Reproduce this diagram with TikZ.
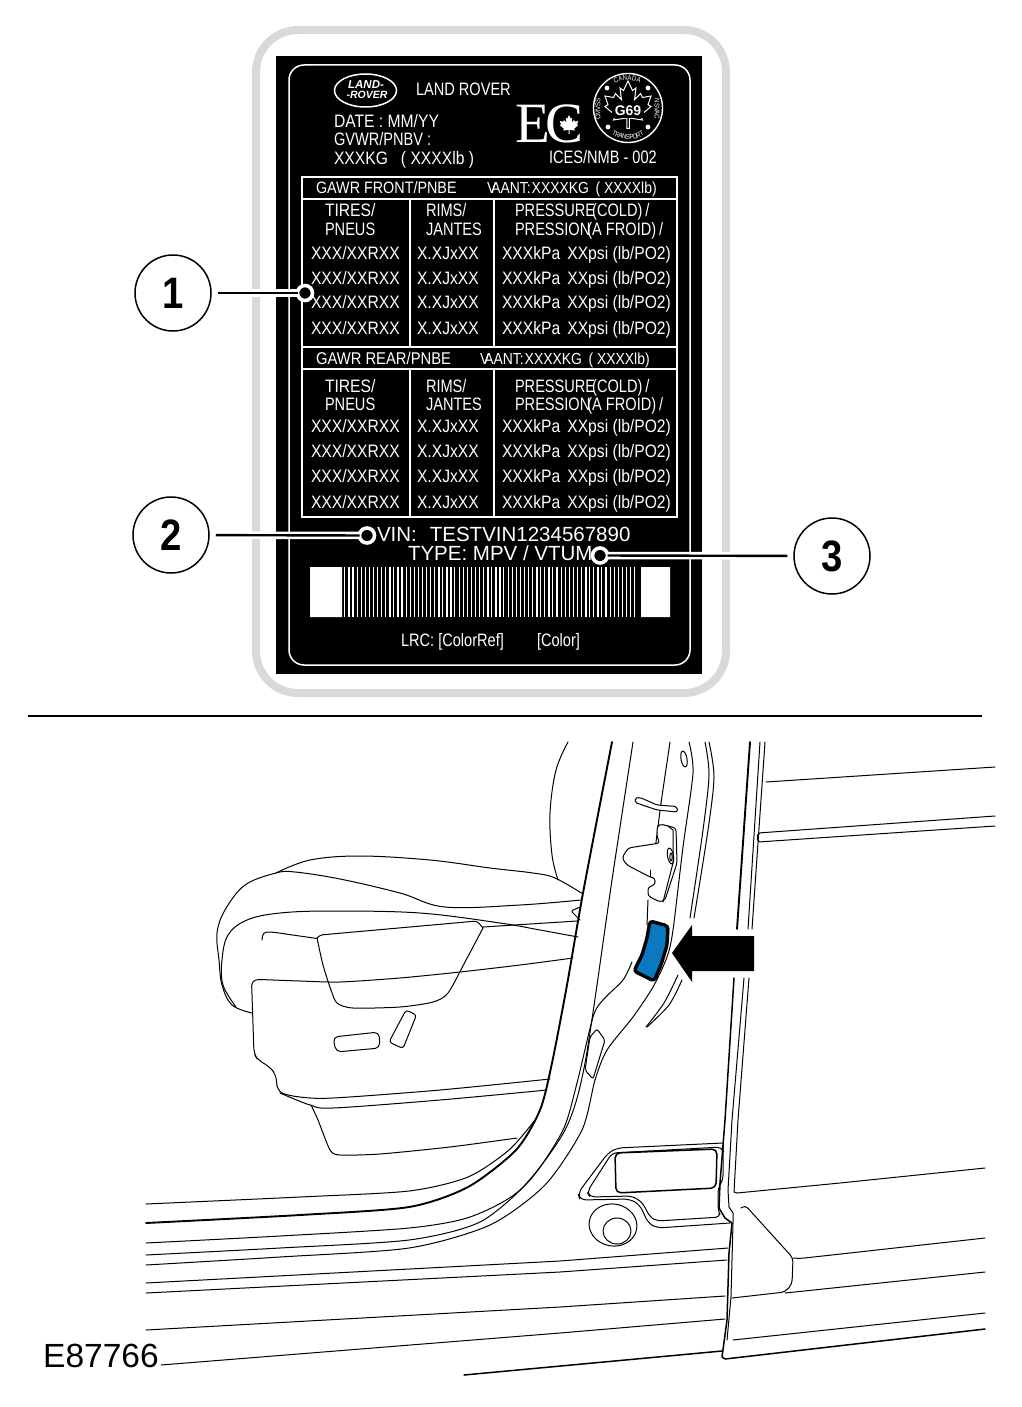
\documentclass[tikz,border=0pt]{standalone}
\usepackage{fontspec}
\usetikzlibrary{shapes.geometric,calc}
\setmainfont{Liberation Sans}
\newfontfamily\nar[FakeStretch=.87]{Liberation Sans}
\newfontfamily\nrw[FakeStretch=.81]{Liberation Sans}
\newfontfamily\ecfont{Liberation Serif}
\definecolor{framegray}{HTML}{D9D9D9}
\definecolor{tagblue}{HTML}{0B78C2}
\newcommand{\fs}[1]{\fontsize{#1}{#1}\selectfont}
\newcommand{\leafshape}{(0,1) -- (.18,.62) -- (.32,.72) -- (.26,.25) -- (.5,.5) -- (.58,.34) -- (.92,.4) -- (.8,.05) -- (.92,-.02) -- (.5,-.38) -- (.58,-.56) -- (.05,-.48) -- (.05,-.9) -- (-.05,-.9) -- (-.05,-.48) -- (-.58,-.56) -- (-.5,-.38) -- (-.92,-.02) -- (-.8,.05) -- (-.92,.4) -- (-.58,.34) -- (-.5,.5) -- (-.26,.25) -- (-.32,.72) -- (-.18,.62) -- cycle}
\tikzset{
  x=1pt,y=-1pt,
  lbl/.style={text=white,inner sep=0pt,outer sep=0pt,anchor=base west,font=\nar\fs{18}},
  lbn/.style={lbl,font=\nrw\fs{18}},
  tbl/.style={lbl,font=\nar\fs{17}},
  big/.style={lbl,font=\fs{20.5}},
  whiteline/.style={draw=white,line width=1.5pt},
  callout/.style={circle,draw=black,fill=white,line width=1.5pt,minimum size=76pt,inner sep=0pt,font=\nar\bfseries\fs{44}},
  ring/.style={circle,draw=white,fill=black,line width=3.6pt,minimum size=15pt,inner sep=0pt,outer sep=0pt},
  halo/.style={draw=white,line width=7.5pt,shorten <=6pt},
  leader/.style={draw=black,line width=2.4pt,shorten <=6pt},
  sk/.style={draw=black,line width=1pt,line join=round,line cap=round},
  skb/.style={sk,line width=1.9pt},
  tiny/.style={text=white,inner sep=0pt,font=\nar\fs{7}}
}
\begin{document}
\begin{tikzpicture}
\useasboundingbox (0,0) rectangle (1021,1407);
% ---------- label
\draw[framegray,line width=8pt,rounded corners=42pt] (256,30) rectangle (726,693);
\fill[black] (276,56) rectangle (702,674);
\draw[whiteline,rounded corners=15pt] (289,65) rectangle (690,665);
\draw[whiteline] (302,177) rectangle (677,517);
\draw[whiteline] (302,199) -- (677,199) (302,347) -- (677,347) (302,369) -- (677,369);
\draw[whiteline] (410,199) -- (410,347) (494,199) -- (494,347) (410,369) -- (410,517) (494,369) -- (494,517);
% logo
\node[ellipse,draw=white,line width=1.5pt,minimum width=62pt,minimum height=33pt,inner sep=0pt] (logo) at (365.5,90.5) {};
\node[text=white,inner sep=0pt,font=\bfseries\itshape\fs{11.5}] (logoa) at (366,84.5) {LAND-};
\node[text=white,inner sep=0pt,font=\bfseries\itshape\fs{10.5}] (logob) at (367,95) {-ROVER};
\node[lbn] (brand) at (416,95.5) {LAND ROVER};
\node[lbl] (date) at (334,128) {DATE : MM/YY};
\node[lbn] (gvwr) at (334,145.5) {GVWR/PNBV :};
\node[lbl] (kg) at (334,165) {XXXKG\hspace{13pt}( XXXXlb )};
\node[lbn] (ices) at (549,164) {ICES/NMB - 002};
\node[lbl,font=\ecfont\fs{57}] (ece) at (515,143) {E};
\node[lbl,font=\ecfont\fs{57}] (ecc) at (545,143) {C};
\fill[black] (570,125) circle (13);
\begin{scope}[shift={(569,125)},xscale=10,yscale=-10]
\fill[white] \leafshape;
\end{scope}
% badge
\node[circle,draw=white,line width=1.4pt,minimum size=69pt,inner sep=0pt] (badge) at (628,108) {};
\begin{scope}[shift={(628,106)},xscale=25,yscale=-25]
\draw[white,line width=1pt] \leafshape;
\end{scope}
\fill[black] (612,102) rectangle (644,118);
\node[text=white,inner sep=0pt,font=\bfseries\fs{14}] (gsix) at (628,110.5) {G69};
\fill[white] (607,88) circle (2.4) (648,88) circle (2.4) (608,127) circle (2.4) (648,127) circle (2.4);
\foreach \c/\a [count=\i] in {C/-24,A/-15,N/-6,A/3,D/12,A/21}
  \node[tiny,rotate=-\a] (ca\i) at ($(628,108)+(\a-90:30)$) {\c};
\foreach \c/\a [count=\i] in {T/208,R/201,A/194,N/187,S/180,P/173,O/166,R/159,T/152}
  \node[tiny,rotate=180-\a] (tr\i) at ($(628,108)+(\a-90:29)$) {\c};
\node[tiny,rotate=90] (cm) at (598,109) {CMVSS};
\node[tiny,rotate=-90] (ns) at (657,109) {NSVAC};
% table
\node[tbl,font=\nar\fs{16.5}] (gf) at (316,193.5) {GAWR FRONT/PNBE};
\node[tbl,font=\nar\fs{16}] (vf) at (487,193.5) {V\kern-5pt AANT:\kern1pt XXXXKG \,( XXXXlb)};
\node[tbl] (gr) at (316,364) {GAWR REAR/PNBE};
\node[tbl,font=\nar\fs{16}] (vr) at (480,364) {V\kern-5pt AANT:\kern1pt XXXXKG \,( XXXXlb)};
\foreach \tag/\ya/\yb in {f/216.5/235,r/392/410}{
  \node[lbl] (ti\tag) at (325,\ya) {TIRES/};
  \node[lbn] (pn\tag) at (325,\yb) {PNEUS};
  \node[lbn] (ri\tag) at (426,\ya) {RIMS/};
  \node[lbn] (ja\tag) at (426,\yb) {JANTES};
  \node[lbn] (pr\tag) at (515,\ya) {PRESSURE\kern-3pt(COLD)\kern-1pt\ /};
  \node[lbn] (pi\tag) at (515,\yb) {PRESSION\kern-3pt(A FROID)\kern-1pt\ /};
}
\foreach \y [count=\i] in {259,284,308,334,432,457,482,508}{
  \node[lbl] (ta\i) at (311,\y) {XXX/XXRXX};
  \node[lbl] (ra\i) at (417,\y) {X.XJxXX};
  \node[lbl] (pa\i) at (502,\y) {XXXkPa\hspace{7pt}XXpsi (lb/PO2)};
}
\node[big] (vin) at (377,541) {VIN:\hspace{13pt}TESTVIN1234567890};
\node[big] (type) at (408,560) {TYPE: MPV / VTUM};
% barcode
\fill[white] (310,567) rectangle (342,617) (641,567) rectangle (670,617);
\foreach \i in {0,...,71}{
  \pgfmathsetmacro{\bx}{344.3+\i*4.08}
  \pgfmathsetmacro{\bw}{1+0.25*mod(\i*7,3)}
  \fill[white] (\bx,567) rectangle (\bx+\bw,617);
}
\node[lbn] (lrc) at (401,646) {LRC: [ColorRef]};
\node[lbn] (col) at (537,646) {[Color]};
% callouts
\node[callout] (c1) at (173,293) {1};
\node[callout] (c2) at (171,535) {2};
\node[callout] (c3) at (832,556) {3};
\node[ring] (r1) at (305,293) {};
\node[ring] (r2) at (367,535.5) {};
\node[ring] (r3) at (600,555.5) {};
\path[halo] (c1) -- (r1);
\path[halo] (c2) -- (r2);
\path[halo] (c3) -- (r3);
\path[leader] (c1) -- (r1);
\path[leader] (c2) -- (r2);
\path[leader] (c3) -- (r3);
% divider
\draw[black,line width=1.6pt] (28,716) -- (982,716);
% ---------- seat
\draw[sk] plot[smooth,tension=.6] coordinates {(568,742) (556,770) (550,813) (552,855) (558,880)};
\draw[sk] plot[smooth,tension=.6] coordinates {(276,873) (310,860) (360,856) (430,860) (490,868) (533,873) (555,878) (583,894)};
\draw[sk] plot[smooth,tension=.6] coordinates {(581,900) (520,905) (445,907) (400,893) (340,879) (295,872) (276,873) (245,885) (225,910) (217,933) (219,960) (222,985) (232,1005) (252,1013)};
\draw[sk] plot[smooth,tension=.6] coordinates {(578,937) (540,930) (500,923) (420,913) (333,911) (280,913) (247,920) (228,935) (222,960) (223,985) (236,1007)};
\draw[sk,rounded corners=4pt] (262,940) -- (263,932) -- (272,932) -- (317,938.5);
\draw[sk] plot[smooth,tension=.45] coordinates {(317,938) (323,965) (331,990) (337,1003) (353,1008) (400,1007) (433,1002) (448,993) (465,962) (483,928)};
\draw[sk,rounded corners=3pt] (317,938) -- (320,935) -- (477,921) -- (483,928);
\draw[sk] (483,927) -- (577,921);
\draw[sk] plot[smooth,tension=.4] coordinates {(573,958) (520,965) (460,972) (400,978) (340,982) (300,981) (260,979.5)};
\draw[sk,rounded corners=6pt] (262,979.5) -- (251.5,980) -- (254,1054) -- (258,1060) -- (270,1067) -- (276,1075) -- (277,1086);
\draw[sk] plot[smooth,tension=.5] coordinates {(277,1086) (282,1093) (300,1097) (333,1098) (440,1090) (550,1079)};
\draw[sk] plot[smooth,tension=.5] coordinates {(280,1093) (310,1105) (333,1108) (440,1100) (547,1090)};
\draw[sk] plot[smooth,tension=.4] coordinates {(311,1105) (318,1120) (330,1150) (340,1155) (380,1154) (450,1147) (517,1138)};
\draw[sk,rounded corners=5pt] (333,1037) -- (379,1032) -- (380,1048) -- (336,1052) -- cycle;
\draw[sk,rounded corners=3pt] (406,1010) -- (416.5,1015) -- (403,1048.5) -- (389,1042) -- cycle;
\draw[sk,rounded corners=2pt] (580,907) -- (571,911) -- (580,920);
% ---------- pillar
\draw[skb] plot[smooth,tension=.45] coordinates {(612,742) (583,893) (567,985) (552,1063) (540,1110) (516,1150) (468,1187) (409,1207) (300,1215) (146,1223)};
\draw[sk] plot[smooth,tension=.45] coordinates {(146,1204) (300,1197) (409,1191) (468,1177) (509,1150) (535,1120)};
\draw[sk] plot[smooth,tension=.45] coordinates {(633,742) (612,880) (585,1063) (565,1130) (520,1190) (470,1217) (409,1228) (280,1236) (146,1243)};
\draw[sk] plot[smooth,tension=.45] coordinates {(146,1255) (280,1248) (409,1240) (480,1222) (530,1180) (563,1130) (577,1083) (593,1017) (603,1000) (623,980) (632,962)};
\draw[sk] plot[smooth,tension=.45] coordinates {(146,1265) (280,1257) (409,1248) (490,1225) (545,1185) (582,1130) (595,1080) (607,1050) (633,1017) (653,987) (667,957) (673,930) (683,847) (693,773) (689,742)};
\draw[sk] (670,742) -- (661,803);
\draw[sk] (661,803) -- (655,850);
\draw[sk] (648,900) -- (647,925);
\draw[sk,rounded corners=2pt] (597,1029) -- (605,1040) -- (593,1079) -- (585,1070) -- (590,1037) -- cycle;
% latch
\draw[sk,fill=white,rounded corners=2pt] (635,798) -- (640,797.5) -- (657,805) -- (677,806.5) -- (677.5,812) -- (657,810) -- (635,802.5) -- cycle;
\draw[sk,fill=white,rounded corners=3pt] (657,827) -- (657,837) -- (660,843) -- (628,848) -- (622,858) -- (627,865) -- (650,877) -- (655,878) -- (655,885) -- (648,887) -- (648,896) -- (660,902) -- (665,900) -- (677,863) -- (676,828) -- (660,824) -- cycle;
\draw[sk] (668,826) -- (673,830) -- (673,863) -- (663,902);
\draw[sk] (650,870) -- (650,877);
\draw[sk] (670.5,856) ellipse [x radius=3,y radius=8,rotate=10];
\draw[sk] (671,857) ellipse [x radius=1.2,y radius=4];
\draw[sk] (684,759) ellipse [x radius=3,y radius=8,rotate=10];
\draw[sk] plot[smooth,tension=.5] coordinates {(705,742) (709,775) (703,830) (690,918)};
\draw[sk] plot[smooth,tension=.5] coordinates {(709,742) (714,777) (708,830) (694,918)};
% door edge
\draw[skb] (750,742) -- (737,929);
\draw[skb,line width=1.5pt] (734,978) -- (725,1120) -- (720,1183) -- (719,1208) -- (725,1218) -- (732,1223) -- (729,1253) -- (727,1320) -- (722,1357) -- (725,1359) -- (985,1329);
\draw[sk] (760,742) -- (748,929) (744,978) -- (732,1120) -- (728,1190) -- (729,1207) -- (733,1213) -- (733,1223) -- (731,1297) -- (727,1340);
\draw[sk] (765,742) -- (752,929) (749,978) -- (738,1120) -- (734,1192) -- (737,1193) -- (840,1183) -- (985,1168);
\draw[sk] (766,782) -- (995,767);
\draw[sk,rounded corners=2pt] (995,816) -- (758,833) -- (757,838) -- (758,842) -- (995,826);
% blue tag and arrow
\draw[line width=3.4pt,draw=black,fill=tagblue,line join=round,rounded corners=3pt] (650,921) -- (668,926) -- (667,945) -- (661,965) -- (654,981) -- (634,971) -- (642,955) -- (647,938) -- cycle;
\fill[black] (672,953) -- (692,925) -- (692,936) -- (754,936) -- (754,971) -- (692,971) -- (692,982) -- cycle;
\draw[sk] plot[smooth,tension=.5] coordinates {(678,975) (664,1003) (646,1027)};
\draw[sk] plot[smooth,tension=.5] coordinates {(682,980) (669,1005) (647,1027)};
% step plate
\draw[sk,rounded corners=6pt] (723,1143) -- (617,1148) -- (608,1153) -- (578,1193) -- (580,1200) -- (630,1199) -- (640,1205) -- (648,1223) -- (657,1228) -- (730,1223);
\draw[sk,rounded corners=5pt] (723,1145) -- (723,1180) -- (718,1188) -- (718,1210) -- (721,1217) -- (657,1221) -- (650,1217) -- (642,1202) -- (632,1196) -- (590,1197) -- (587,1192) -- (612,1153) -- (722,1147) -- (723,1150);
\draw[sk,line width=1.5pt,rounded corners=5pt] (615,1153) -- (717,1149) -- (716,1188) -- (616,1193) -- cycle;
\draw[sk] (613,1225) ellipse [x radius=24,y radius=21,rotate=-10];
\draw[sk] (617,1231) ellipse [x radius=14,y radius=13];
% sill lines
\draw[sk] (146,1283) -- (560,1261) -- (728,1248);
\draw[sk] (146,1293) -- (560,1272) -- (727,1260);
\draw[sk] (146,1330) -- (560,1307) -- (725,1296);
\draw[sk] (161,1365) -- (560,1333) -- (725,1319);
\draw[skb,line width=1.5pt] (464,1375) -- (722,1351);
% quarter panel
\draw[sk,rounded corners=4pt] (741,1208) -- (745,1205) -- (793,1258) -- (792,1284) -- (785,1292) -- (732,1298);
\draw[sk] (785,1293) -- (985,1272);
\draw[sk,rounded corners=4pt] (793,1258) -- (800,1258.5) -- (985,1238);
\draw[sk] (733,1340) -- (985,1313);
% text
\node[inner sep=0pt,anchor=base west,font=\fs{33.5}] (code) at (43,1367) {E87766};
\end{tikzpicture}
\end{document}
